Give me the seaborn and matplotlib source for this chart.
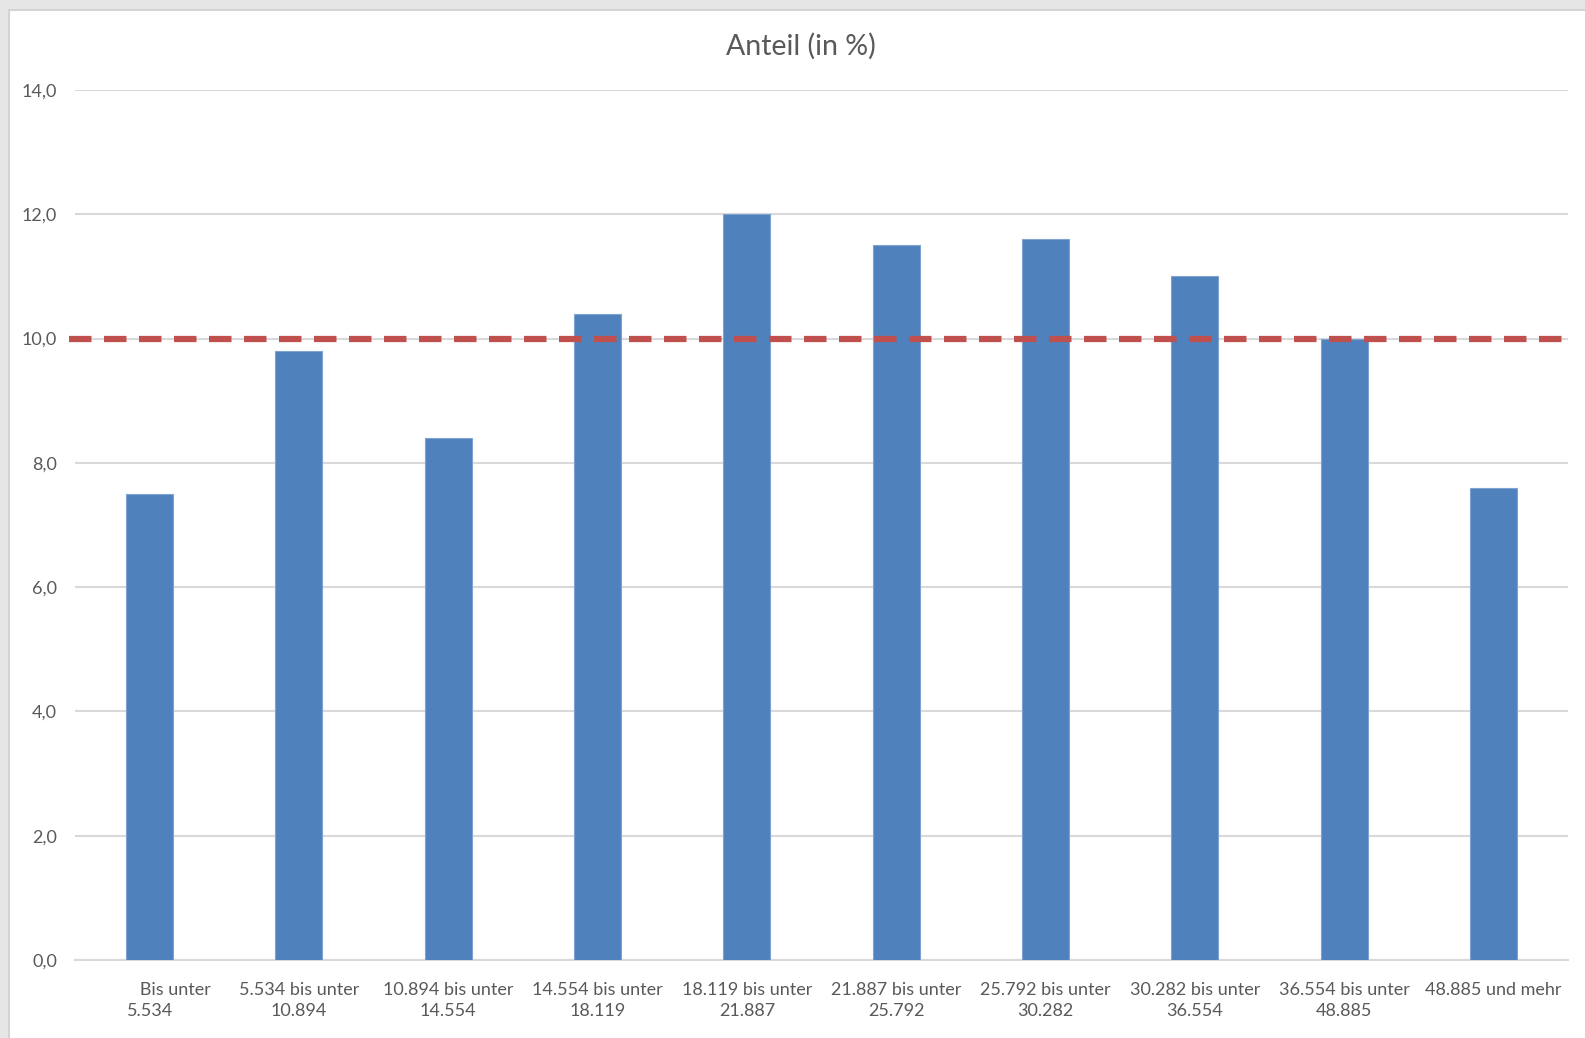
import matplotlib
matplotlib.use("Agg")
import matplotlib.pyplot as plt
import seaborn as sns
import pandas as pd
from matplotlib.patches import Rectangle

categories = [
    "           Bis unter\n5.534",
    "5.534 bis unter\n10.894",
    "10.894 bis unter\n14.554",
    "14.554 bis unter\n18.119",
    "18.119 bis unter\n21.887",
    "21.887 bis unter\n25.792",
    "25.792 bis unter\n30.282",
    "30.282 bis unter\n36.554",
    "36.554 bis unter\n48.885",
    "48.885 und mehr",
]
values = [7.5, 9.8, 8.4, 10.4, 12.0, 11.5, 11.6, 11.0, 10.0, 7.6]
reference = 10.0
y_ticks = [0, 2, 4, 6, 8, 10, 12, 14]
y_tick_labels = ["0,0", "2,0", "4,0", "6,0", "8,0", "10,0", "12,0", "14,0"]
title = "Anteil (in %)"

sns.set_theme(style="white")
plt.rcParams["font.family"] = ["Lato", "DejaVu Sans"]

W, H = 1585, 1038
fig = plt.figure(figsize=(W / 100, H / 100), dpi=100)
fig.patch.set_facecolor("#E6E6E6")
# white chart area with light border
bg = Rectangle((9 / W, -0.01), 1, 1.01 - 10 / H, transform=fig.transFigure,
               facecolor="white", edgecolor="#D4D4D4", linewidth=1.5, zorder=-10)
fig.patches.append(bg)

ax = fig.add_axes([75 / W, 78 / H, (1568 - 75) / W, (960 - 90) / H])
ax.set_facecolor("none")
df = pd.DataFrame({"cat": categories, "val": values})
sns.barplot(data=df, x="cat", y="val", color="#4F81BD", saturation=1, width=0.315,
            edgecolor="#7FA3CF", linewidth=0.8, ax=ax, zorder=3)

ax.set_ylim(0, 14)
ax.set_xlim(-0.5, len(categories) - 0.5)
ax.set_yticks(y_ticks)
ax.set_yticklabels(y_tick_labels)
ax.yaxis.grid(True, color="#D9D9D9", linewidth=1.5, zorder=0)
ax.set_axisbelow(True)
for s in ["top", "right", "left"]:
    ax.spines[s].set_visible(False)
ax.spines["bottom"].set_color("#D9D9D9")
ax.spines["bottom"].set_linewidth(1.5)
ax.tick_params(axis="both", length=0, colors="#595959", labelsize=13)
ax.tick_params(axis="y", pad=13)
ax.tick_params(axis="x", pad=16)
for lbl in ax.get_xticklabels():
    lbl.set_linespacing(1.35)
ax.set_xlabel("")
ax.set_ylabel("")

ax.axhline(reference, xmin=-0.004, xmax=1.0, color="#C0504D", linewidth=4.5,
           dashes=(3.6, 2.0), clip_on=False, zorder=5)

fig.text(801 / W, 1 - 46 / H, title, ha="center", va="center", fontsize=20.5, color="#595959")

fig.savefig("out.png", dpi=100, facecolor=fig.get_facecolor())
